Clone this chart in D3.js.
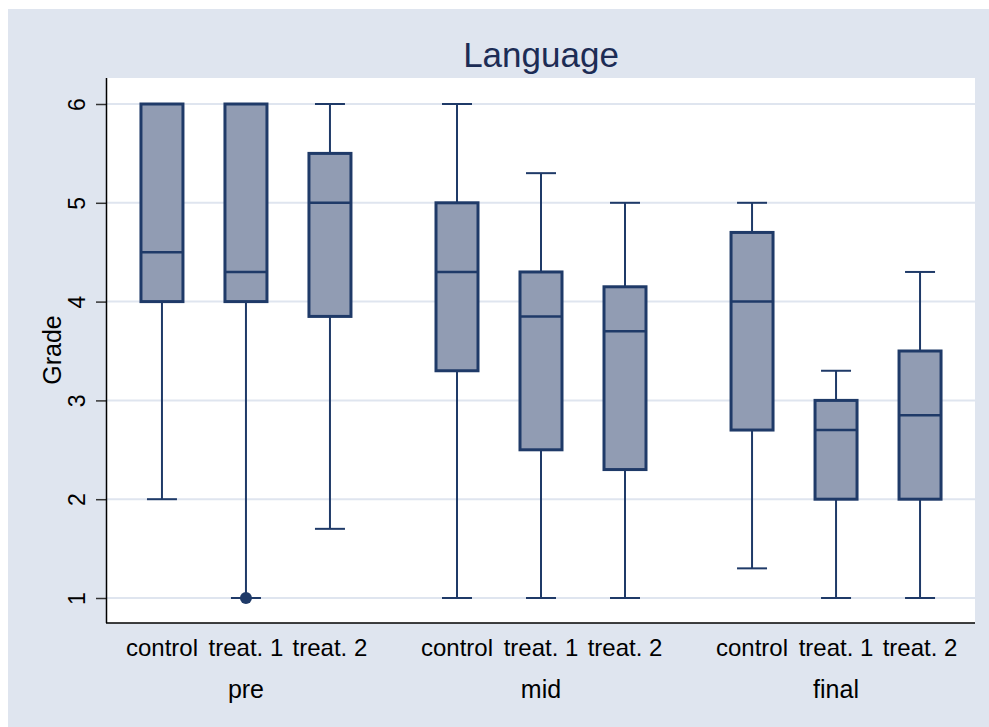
<!DOCTYPE html>
<html>
<head>
<meta charset="utf-8">
<title>Language</title>
<script src="https://d3js.org/d3.v7.min.js"></script>
<style>
  body { margin: 0; background: #fff; }
  text { font-family: "Liberation Sans", Arial, sans-serif; }
</style>
</head>
<body>
<svg width="989" height="727"></svg>
<script>
// data
var periods = ["pre", "mid", "final"];
var groups = ["control", "treat. 1", "treat. 2"];
// per period, per group
var lowWhisker = [[2, 1, 1.7], [1, 1, 1], [1.3, 1, 1]];
var q1s = [[4, 4, 3.85], [3.3, 2.5, 2.3], [2.7, 2, 2]];
var medians = [[4.5, 4.3, 5], [4.3, 3.85, 3.7], [4, 2.7, 2.85]];
var q3s = [[6, 6, 5.5], [5, 4.3, 4.15], [4.7, 3, 3.5]];
var highWhisker = [[6, 6, 6], [6, 5.3, 5], [5, 3.3, 4.3]];
var outliers = [{period: "pre", group: "treat. 1", value: 1}];
var yTicks = [1, 2, 3, 4, 5, 6];

var svg = d3.select("svg");
var margin = {top: 78, right: 14, bottom: 104, left: 107};
var width = 989 - margin.left - margin.right,
    height = 727 - margin.top - margin.bottom;

var navy = "#1f3a68", fill = "#919cb3", bg = "#dfe5ef";

svg.append("rect").attr("x", 8).attr("y", 9).attr("width", 981).attr("height", 718).attr("fill", bg);

var g = svg.append("g").attr("transform", `translate(${margin.left},${margin.top})`);
g.append("rect").attr("width", width).attr("height", height).attr("fill", "#fff");

var y = d3.scaleLinear().domain([1, 6]).range([520, 26]);
var xOuter = d3.scalePoint().domain(periods).range([0, width]).padding(0.471);
var xInner = d3.scalePoint().domain(groups).range([-84, 84]);
var boxW = 42;

// gridlines
g.append("g").selectAll("line").data(yTicks).enter().append("line")
  .attr("x1", 0).attr("x2", width)
  .attr("y1", d => y(d)).attr("y2", d => y(d))
  .attr("stroke", bg).attr("stroke-width", 2);

// boxes
var rows = [];
periods.forEach((p, i) => groups.forEach((gr, j) => rows.push({
  period: p, group: gr, lo: lowWhisker[i][j], q1: q1s[i][j], med: medians[i][j], q3: q3s[i][j], hi: highWhisker[i][j]
})));

var boxes = g.append("g").selectAll("g").data(rows).enter().append("g")
  .attr("transform", d => `translate(${xOuter(d.period) + xInner(d.group)},0)`);

boxes.append("line").attr("x1", 0).attr("x2", 0)
  .attr("y1", d => y(d.hi)).attr("y2", d => y(d.q3)).attr("stroke", navy).attr("stroke-width", 2);
boxes.append("line").attr("x1", 0).attr("x2", 0)
  .attr("y1", d => y(d.q1)).attr("y2", d => y(d.lo)).attr("stroke", navy).attr("stroke-width", 2);
boxes.append("line").attr("x1", -15).attr("x2", 15)
  .attr("y1", d => y(d.hi)).attr("y2", d => y(d.hi)).attr("stroke", navy).attr("stroke-width", 2);
boxes.append("line").attr("x1", -15).attr("x2", 15)
  .attr("y1", d => y(d.lo)).attr("y2", d => y(d.lo)).attr("stroke", navy).attr("stroke-width", 2);
boxes.append("rect").attr("x", -boxW / 2).attr("width", boxW)
  .attr("y", d => y(d.q3)).attr("height", d => y(d.q1) - y(d.q3))
  .attr("fill", fill).attr("stroke", navy).attr("stroke-width", 3);
boxes.append("line").attr("x1", -boxW / 2).attr("x2", boxW / 2)
  .attr("y1", d => y(d.med)).attr("y2", d => y(d.med)).attr("stroke", navy).attr("stroke-width", 2.5);

g.append("g").selectAll("circle").data(outliers).enter().append("circle")
  .attr("cx", d => xOuter(d.period) + xInner(d.group)).attr("cy", d => y(d.value))
  .attr("r", 6).attr("fill", navy);

// axes
var yAxis = g.append("g").call(d3.axisLeft(y).tickValues(yTicks).tickSize(11).tickPadding(0).tickFormat(d3.format("d")));
yAxis.select(".domain").remove();
yAxis.selectAll(".tick line").attr("stroke", "#333").attr("stroke-width", 1.5);
yAxis.selectAll(".tick text").attr("transform", "rotate(-90)").attr("x", 0).attr("y", -30)
  .attr("dy", "0.35em").attr("text-anchor", "middle").attr("font-size", 23).attr("fill", "#000");
g.append("line").attr("x1", -0.5).attr("x2", -0.5).attr("y1", 0).attr("y2", height).attr("stroke", "#000").attr("stroke-width", 1.5);
g.append("line").attr("x1", -1).attr("x2", width).attr("y1", height).attr("y2", height).attr("stroke", "#000").attr("stroke-width", 1.5);

// x labels
var lab = g.append("g");
rows.forEach(d => {
  lab.append("text").attr("x", xOuter(d.period) + xInner(d.group)).attr("y", height + 33)
    .attr("text-anchor", "middle").attr("font-size", 24).text(d.group);
});
lab.selectAll(".period").data(periods).enter().append("text")
  .attr("x", d => xOuter(d)).attr("y", height + 75)
  .attr("text-anchor", "middle").attr("font-size", 25).text(d => d);

// titles
svg.append("text").attr("x", margin.left + width / 2).attr("y", 67).attr("text-anchor", "middle")
  .attr("font-size", 35).attr("fill", "#1c2c55").text("Language");
svg.append("text").attr("transform", "translate(61,350) rotate(-90)").attr("text-anchor", "middle")
  .attr("font-size", 25).text("Grade");
</script>
</body>
</html>
